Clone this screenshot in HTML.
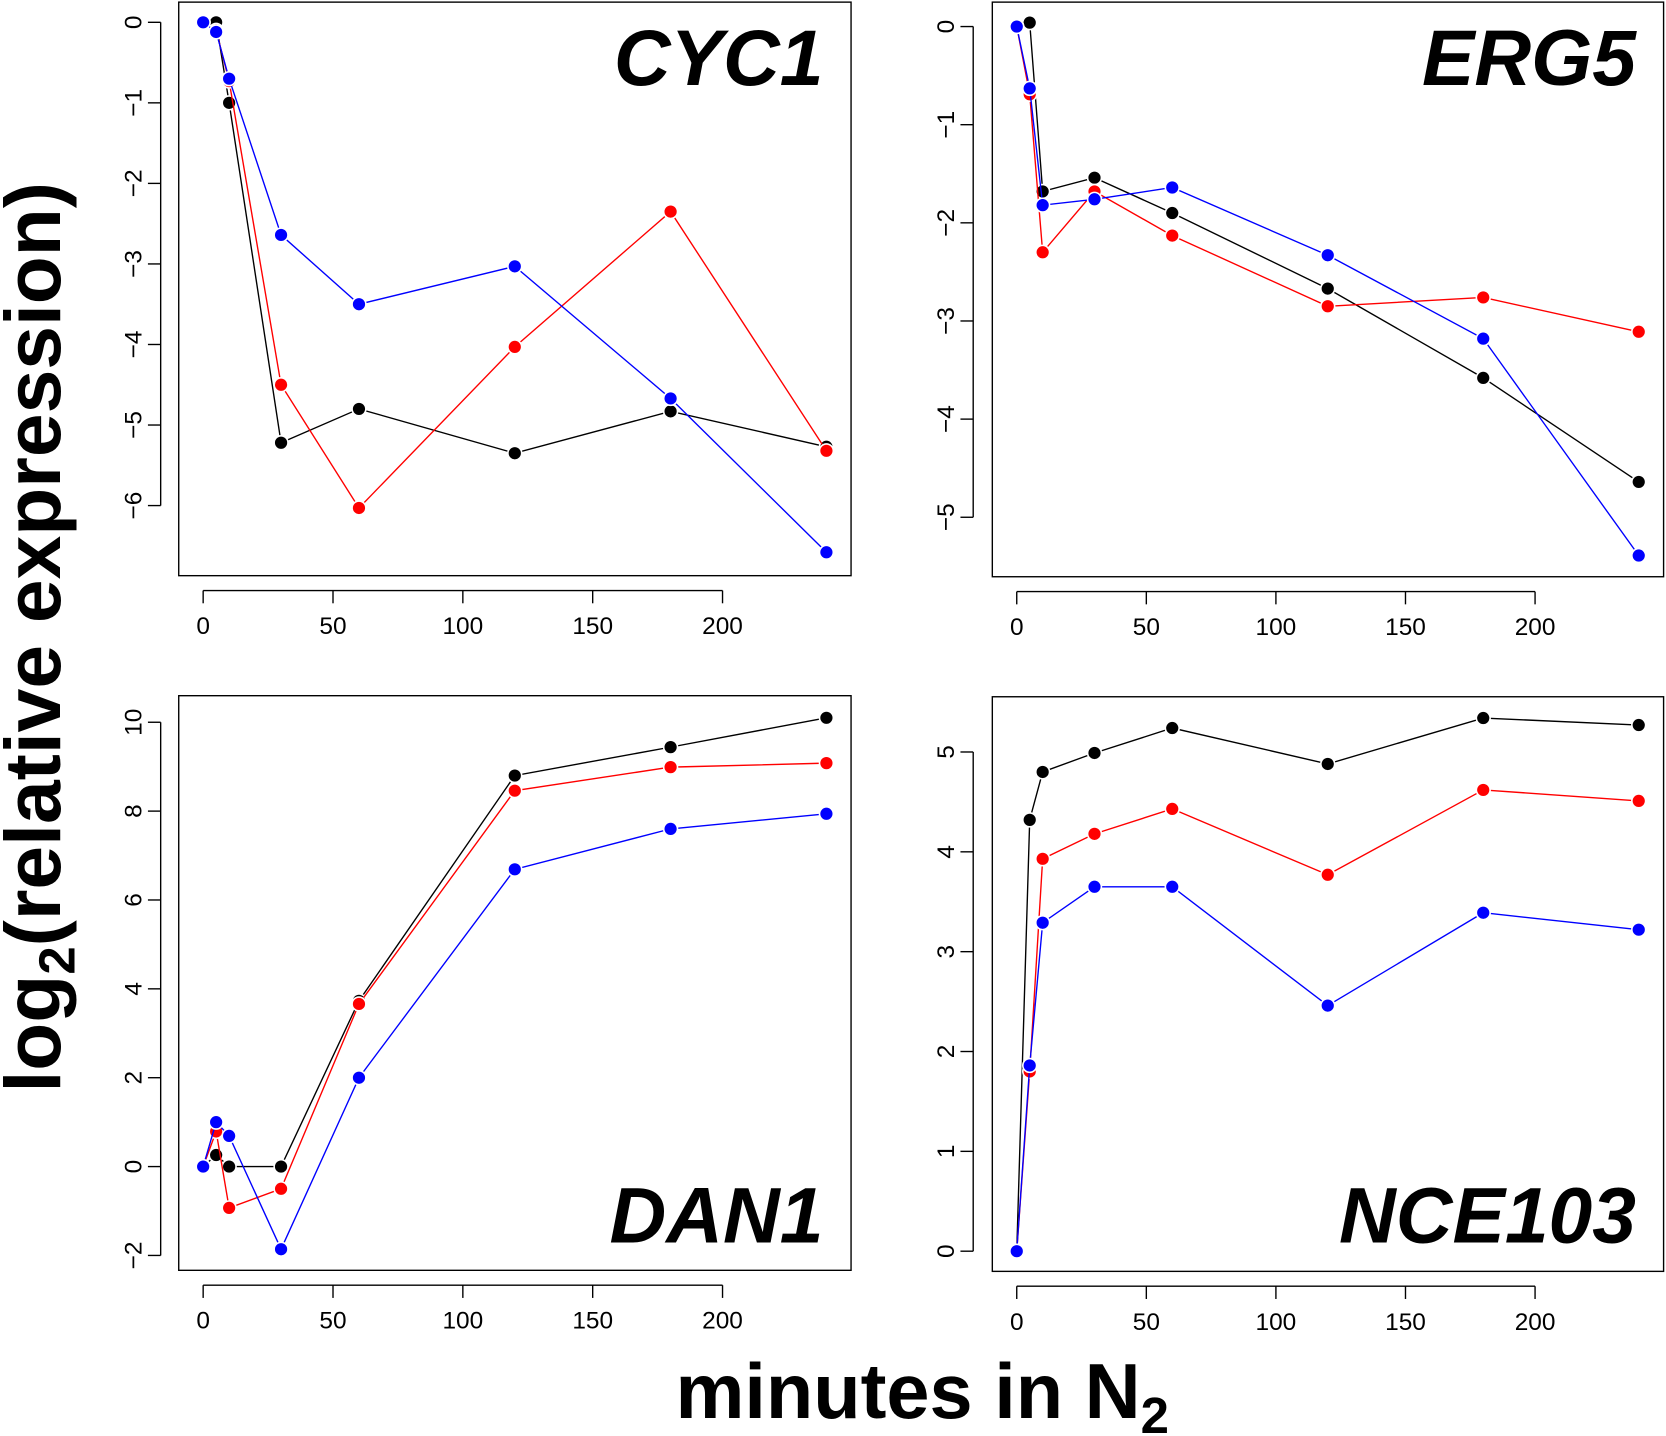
<!DOCTYPE html>
<html><head><meta charset="utf-8"><style>html,body{margin:0;padding:0;background:#fff}svg{display:block}</style></head>
<body>
<svg id="chart" width="1666" height="1436" viewBox="0 0 1568 1352" xmlns="http://www.w3.org/2000/svg" font-family="Liberation Sans, Arial, sans-serif">
<text transform="translate(56,600) rotate(-90)" text-anchor="middle" font-size="74" font-weight="bold">log<tspan font-size="48" dy="14">2</tspan><tspan dy="-14">(relative expression)</tspan></text>
<text x="868" y="1335" text-anchor="middle" font-size="73" font-weight="bold">minutes in N<tspan font-size="48" dy="14">2</tspan></text>
</svg>
<script>
const times = [0,5,10,30,60,120,180,240];
const xTicks = [0,50,100,150,200];
const cyc1Black = [0,0,-1,-5.22,-4.8,-5.35,-4.83,-5.27];
const cyc1Red = [0,-0.1,-0.73,-4.5,-6.03,-4.03,-2.35,-5.32];
const cyc1Blue = [0,-0.12,-0.7,-2.64,-3.5,-3.03,-4.67,-6.58];
const cyc1Ticks = [0,-1,-2,-3,-4,-5,-6];
const erg5Black = [0,0.04,-1.68,-1.54,-1.9,-2.67,-3.58,-4.64];
const erg5Red = [0,-0.69,-2.3,-1.68,-2.13,-2.85,-2.76,-3.11];
const erg5Blue = [0,-0.63,-1.82,-1.76,-1.64,-2.33,-3.18,-5.39];
const erg5Ticks = [0,-1,-2,-3,-4,-5];
const dan1Black = [0,0.26,0,0,3.73,8.8,9.44,10.1];
const dan1Red = [0,0.79,-0.93,-0.5,3.66,8.46,8.99,9.08];
const dan1Blue = [0,1.0,0.69,-1.86,2.0,6.69,7.6,7.94];
const dan1Ticks = [-2,0,2,4,6,8,10];
const nceBlack = [0,4.32,4.8,4.99,5.24,4.88,5.34,5.27];
const nceRed = [0,1.8,3.93,4.18,4.43,3.77,4.62,4.51];
const nceBlue = [0,1.86,3.29,3.65,3.65,2.46,3.39,3.22];
const nceTicks = [0,1,2,3,4,5];

const NS='http://www.w3.org/2000/svg';
const svg=document.getElementById('chart');
function mk(tag,attrs,parent){const e=document.createElementNS(NS,tag);for(const k in attrs)e.setAttribute(k,attrs[k]);(parent||svg).appendChild(e);return e;}

function panel(p){
  const g=mk('g',{});
  
  
  const xs=v=>p.x0+(v-0)*(p.x200-p.x0)/200;
  const ys=v=>p.yA+(v-p.vA)*(p.yB-p.yA)/(p.vB-p.vA);
  const box=mk('rect',{x:p.bx,y:p.by,width:p.bw,height:p.bh,fill:'none',stroke:'#000','stroke-width':1.3},g);
  
  
  const xa=mk('g',{},g);
  
  
  mk('line',{x1:xs(xTicks[0]),x2:xs(xTicks[xTicks.length-1]),y1:p.xay,y2:p.xay,stroke:'#000','stroke-width':1.3},xa);
  xTicks.forEach(t=>{
    mk('line',{x1:xs(t),x2:xs(t),y1:p.xay,y2:p.xay+12,stroke:'#000','stroke-width':1.3},xa);
    const tx=mk('text',{x:xs(t),y:p.xay+41,'text-anchor':'middle','font-size':23},xa);
    
    
    tx.textContent=t;
  });
  const ya=mk('g',{},g);
  
  
  const yt=p.ticks;
  mk('line',{x1:p.yax,x2:p.yax,y1:ys(Math.min(...yt)),y2:ys(Math.max(...yt)),stroke:'#000','stroke-width':1.3},ya);
  yt.forEach(t=>{
    mk('line',{x1:p.yax,x2:p.yax-12,y1:ys(t),y2:ys(t),stroke:'#000','stroke-width':1.3},ya);
    const tx=mk('text',{transform:`translate(${p.yax-18},${ys(t)}) rotate(-90)`,'text-anchor':'middle','font-size':23},ya);
    
    
    tx.textContent=t<0?'\u2212'+(-t):t;
  });
  const ti=mk('text',{x:p.tx,y:p.ty,'text-anchor':'end','font-size':74,'font-weight':'bold','font-style':'italic'},g);
  
  
  ti.textContent=p.name;
  p.series.forEach(s=>{
    const sg=mk('g',{},g);
    
    
    const pts=times.map((t,i)=>xs(t)+','+ys(s.vals[i])).join(' ');
    mk('polyline',{points:pts,fill:'none',stroke:s.color,'stroke-width':1.3},sg);
    times.forEach((t,i)=>{
      const c=mk('circle',{cx:xs(t),cy:ys(s.vals[i]),r:6.5,fill:s.color,stroke:'#fff','stroke-width':1.5},sg);
      
      
    });
  });
}
panel({name:'CYC1',bx:168,by:2,bw:633,bh:540,x0:191,x200:680,yA:21,vA:0,yB:476,vB:-6,xay:556,yax:151,ticks:cyc1Ticks,tx:775,ty:80,
  series:[{label:'black',color:'#000',vals:cyc1Black},{label:'red',color:'#f00',vals:cyc1Red},{label:'blue',color:'#00f',vals:cyc1Blue}]});
panel({name:'ERG5',bx:934,by:2,bw:632,bh:541,x0:957,x200:1445,yA:25,vA:0,yB:487,vB:-5,xay:557,yax:916,ticks:erg5Ticks,tx:1540,ty:80,
  series:[{label:'black',color:'#000',vals:erg5Black},{label:'red',color:'#f00',vals:erg5Red},{label:'blue',color:'#00f',vals:erg5Blue}]});
panel({name:'DAN1',bx:168,by:655,bw:633,bh:541,x0:191,x200:680,yA:680,vA:10,yB:1182,vB:-2,xay:1210,yax:151,ticks:dan1Ticks,tx:775,ty:1170,
  series:[{label:'black',color:'#000',vals:dan1Black},{label:'red',color:'#f00',vals:dan1Red},{label:'blue',color:'#00f',vals:dan1Blue}]});
panel({name:'NCE103',bx:934,by:656,bw:632,bh:541,x0:957,x200:1445,yA:708,vA:5,yB:1178,vB:0,xay:1211,yax:916,ticks:nceTicks,tx:1540,ty:1170,
  series:[{label:'black',color:'#000',vals:nceBlack},{label:'red',color:'#f00',vals:nceRed},{label:'blue',color:'#00f',vals:nceBlue}]});
</script>
</body></html>
